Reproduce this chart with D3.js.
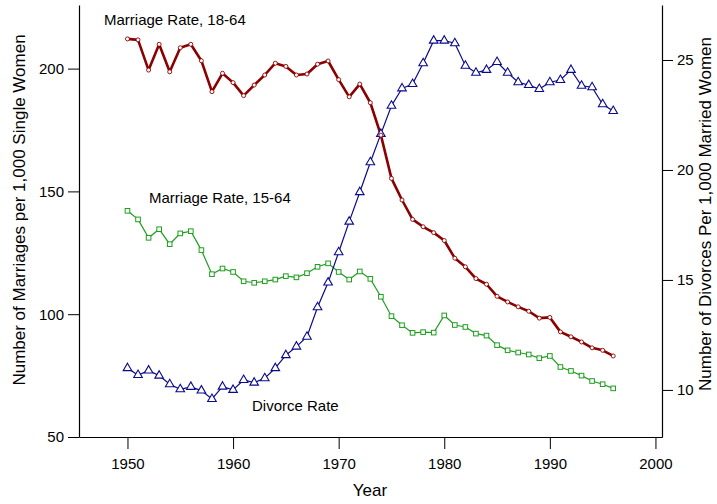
<!DOCTYPE html>
<html>
<head>
<meta charset="utf-8">
<script src="https://cdn.jsdelivr.net/npm/d3@7"></script>
<style>
  body { margin: 0; background: #fff; }
  text { font-family: "Liberation Sans", Arial, sans-serif; }
</style>
</head>
<body>
<div id="chart"></div>
<script>

// data, one value per year 1950..1996
var years = d3.range(1950, 1997);

var marriage1864 = [212.1, 211.7, 199.4, 209.9, 198.7, 208.5, 209.9, 203.2, 190.6, 198.1,
                    194.3, 189.0, 193.3, 197.4, 202.2, 200.9, 197.4, 197.8, 201.8, 203.1,
                    195.5, 188.5, 193.7, 186.1, 172.9, 155.3, 146.5, 138.6, 135.6, 133.2,
                    130.0, 122.8, 119.3, 114.5, 112.2, 107.3, 105.0, 103.0, 101.2, 98.4,
                    98.7, 92.8, 90.8, 88.7, 86.3, 85.3, 83.0];

var marriage1564 = [142.1, 138.6, 131.1, 134.6, 128.5, 132.9, 133.8, 126.1, 116.3, 118.6,
                    117.2, 113.4, 112.8, 113.4, 114.1, 115.5, 115.0, 116.7, 119.3, 120.7,
                    117.2, 114.1, 117.4, 114.4, 107.1, 99.2, 95.5, 92.4, 92.7, 92.5,
                    99.5, 95.6, 94.8, 92.1, 91.3, 87.4, 85.3, 84.4, 83.6, 82.1,
                    83.0, 78.5, 76.9, 75.0, 72.8, 71.5, 69.8];

var divorce = [10.99, 10.68, 10.88, 10.65, 10.26, 10.03, 10.14, 9.97, 9.59, 10.15,
               10.0, 10.45, 10.33, 10.53, 10.99, 11.58, 11.97, 12.42, 13.76, 14.88,
               16.26, 17.65, 18.99, 20.35, 21.64, 22.92, 23.71, 23.91, 24.85, 25.88,
               25.88, 25.76, 24.74, 24.42, 24.55, 24.91, 24.42, 23.99, 23.86, 23.68,
               23.99, 24.09, 24.55, 23.83, 23.76, 22.99, 22.68];

var xTicks = [1950, 1960, 1970, 1980, 1990, 2000];
var leftTicks = [50, 100, 150, 200];
var rightTicks = [10, 15, 20, 25];

var svg_width = 717, svg_height = 504;
var plot_left = 79, plot_right = 662, plot_top = 5, plot_bottom = 437;

var svg = d3.select('#chart').append('svg')
            .attr('width', svg_width)
            .attr('height', svg_height);

var x = d3.scaleLinear()
          .domain([1945.41, 2000.62])
          .range([plot_left, plot_right]);

var yL = d3.scaleLinear()
           .domain([50, 225.9])
           .range([plot_bottom, plot_top]);

var yR = d3.scaleLinear()
           .domain([7.86, 27.5])
           .range([plot_bottom, plot_top]);

function styleAxis(g) {
  g.selectAll('path').attr('stroke', '#000').attr('stroke-width', 1.2);
  g.selectAll('line').attr('stroke', '#000').attr('stroke-width', 1);
  g.selectAll('text').attr('font-size', 15).attr('fill', '#000')
   .style('font-family', '"Liberation Sans", Arial, sans-serif');
}

svg.append('g')
  .attr('transform', 'translate(0,' + plot_bottom + ')')
  .call(d3.axisBottom(x).tickValues(xTicks).tickFormat(d3.format('d'))
          .tickSize(12).tickSizeOuter(0).tickPadding(9))
  .call(styleAxis);

svg.append('g')
  .attr('transform', 'translate(' + plot_left + ',0)')
  .call(d3.axisLeft(yL).tickValues(leftTicks).tickSize(11).tickSizeOuter(0).tickPadding(4))
  .call(styleAxis);

svg.append('g')
  .attr('transform', 'translate(' + plot_right + ',0)')
  .call(d3.axisRight(yR).tickValues(rightTicks).tickSize(11).tickSizeOuter(0).tickPadding(4))
  .call(styleAxis);

// lines
var red = '#8b0000', green = '#1e9e1e', blue = '#0a0a8c';

var lineL = d3.line().x(function(d, i) { return x(years[i]); })
                     .y(function(d) { return yL(d); });
var lineR = d3.line().x(function(d, i) { return x(years[i]); })
                     .y(function(d) { return yR(d); });

svg.append('path').attr('d', lineL(marriage1564))
  .attr('fill', 'none').attr('stroke', green).attr('stroke-width', 1.2);

svg.append('path').attr('d', lineR(divorce))
  .attr('fill', 'none').attr('stroke', blue).attr('stroke-width', 1.2);

svg.append('path').attr('d', lineL(marriage1864))
  .attr('fill', 'none').attr('stroke', red).attr('stroke-width', 2.6)
  .attr('stroke-linejoin', 'round');

// markers
svg.selectAll('.sq').data(marriage1564).enter()
  .append('rect').attr('class', 'sq')
  .attr('x', function(d, i) { return x(years[i]) - 2.3; })
  .attr('y', function(d) { return yL(d) - 2.3; })
  .attr('width', 4.6).attr('height', 4.6)
  .attr('fill', '#fff').attr('stroke', green).attr('stroke-width', 1);

svg.selectAll('.tri').data(divorce).enter()
  .append('path').attr('class', 'tri')
  .attr('transform', function(d, i) { return 'translate(' + x(years[i]) + ',' + yR(d) + ')'; })
  .attr('d', d3.symbol().type(d3.symbolTriangle).size(32))
  .attr('fill', '#fff').attr('stroke', blue).attr('stroke-width', 1.1);

svg.selectAll('.dot').data(marriage1864).enter()
  .append('circle').attr('class', 'dot')
  .attr('cx', function(d, i) { return x(years[i]); })
  .attr('cy', function(d) { return yL(d); })
  .attr('r', 2)
  .attr('fill', '#fff').attr('stroke', red).attr('stroke-width', 0.9);

// series labels
svg.append('text').attr('x', 104).attr('y', 25).attr('font-size', 15)
  .text('Marriage Rate, 18-64');
svg.append('text').attr('x', 149).attr('y', 203).attr('font-size', 15)
  .text('Marriage Rate, 15-64');
svg.append('text').attr('x', 252).attr('y', 411).attr('font-size', 15)
  .text('Divorce Rate');

// axis titles
svg.append('text').attr('x', 370).attr('y', 496).attr('font-size', 17)
  .attr('text-anchor', 'middle').text('Year');

svg.append('text').attr('font-size', 17).attr('text-anchor', 'middle')
  .attr('transform', 'translate(25,210) rotate(-90)')
  .text('Number of Marriages per 1,000 Single Women');

svg.append('text').attr('font-size', 17).attr('text-anchor', 'middle')
  .attr('transform', 'translate(711,214) rotate(-90)')
  .text('Number of Divorces Per 1,000 Married Women');

</script>
</body>
</html>
